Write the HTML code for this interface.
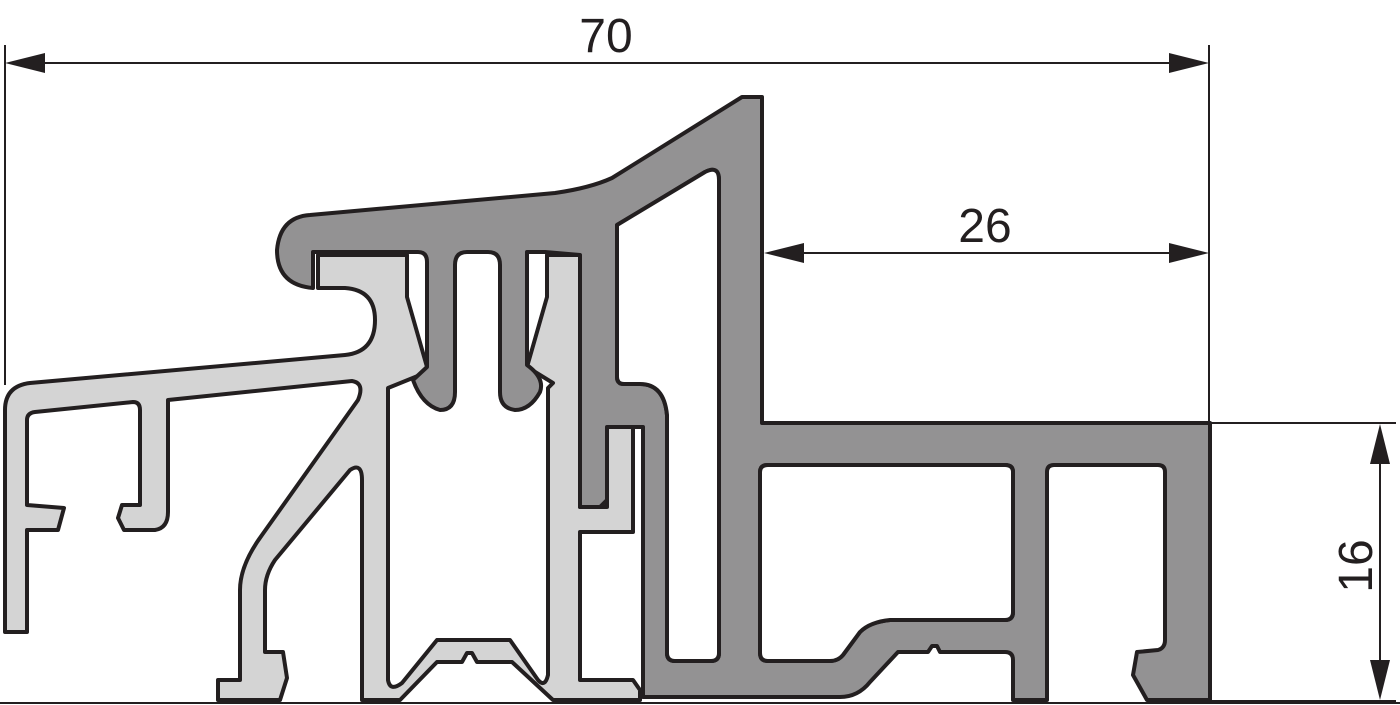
<!DOCTYPE html>
<html><head><meta charset="utf-8"><style>
html,body{margin:0;padding:0;background:#fff;}
svg{display:block;}
</style></head><body>
<svg width="1400" height="705" viewBox="0 0 1400 705" xmlns="http://www.w3.org/2000/svg">
<g stroke="#231f20" stroke-width="2" fill="none">
  <line x1="5" y1="45" x2="5" y2="385"/>
  <line x1="1209" y1="45" x2="1209" y2="423"/>
  <line x1="40" y1="63" x2="1172" y2="63"/>
  <line x1="800" y1="253" x2="1172" y2="253"/>
  <line x1="1210" y1="423" x2="1396" y2="423"/>
  <line x1="1210" y1="701" x2="1396" y2="701"/>
  <line x1="1380" y1="460" x2="1380" y2="664"/>
  <line x1="0" y1="703" x2="1400" y2="703"/>
</g>
<g fill="#231f20">
  <polygon points="5,63 45,53 45,73"/>
  <polygon points="1209,63 1169,53 1169,73"/>
  <polygon points="764,253 804,243 804,263"/>
  <polygon points="1209,253 1169,243 1169,263"/>
  <polygon points="1380,424 1370,464 1390,464"/>
  <polygon points="1380,700 1370,660 1390,660"/>
</g>
<g font-family="'Liberation Sans', sans-serif" font-size="48" fill="#231f20" text-anchor="middle">
  <text x="606" y="52">70</text>
  <text x="985" y="242">26</text>
  <text transform="translate(1372,566) rotate(-90)">16</text>
</g>
<!-- light profile -->
<path fill="#d4d4d4" stroke="#231f20" stroke-width="4" stroke-linejoin="round" d="
M318,255 L318,288 L345,288 Q375,290 375,320 Q375,352 345,355 L30,383 Q5,386 5,410 L5,632 L27,632 L27,530 L58,530 L64,508 L27,505 L27,420 Q27,413 35,412 L133,402 Q140,402 140,410 L140,505 L122,505 L118,518 L124,530 L155,530 Q168,528 168,512 L168,400 L352,381 Q365,383 358,400 L262,535 Q240,565 240,590 L240,680 L218,680 L218,700 L280,700 L287,678 L283,652 L265,652 L265,590 Q265,575 275,560 L350,470 Q362,462 362,480 L362,700 L400,700 L437,662 L462,662 L467,653 L472,653 L477,662 L512,662 L553,700 L640,700 L640,690 L633,680 L580,680 L580,532 L633,532 L633,427 L607,427 L607,507 L580,507 L580,255 L547,255 L547,297 L527,367 L553,383 L548,388 L548,675 Q545,688 538,680 L510,640 L437,640 L402,683 Q390,692 388,680 L388,388 L430,371 L427,367 L407,297 L407,255 Z"/>
<!-- dark profile -->
<path fill="#939293" stroke="#231f20" stroke-width="4" stroke-linejoin="round" fill-rule="evenodd" d="
M313,288 Q277,285 277,250 Q280,217 310,215 L555,193 Q590,188 612,178 L742,97 L762,97 L762,423 L1210,423 L1210,700 L1147,700 L1133,675 L1137,652 L1158,650 Q1165,648 1165,640 L1165,472 Q1165,465 1158,465 L1054,465 Q1047,465 1047,472 L1047,700 L1013,700 L1013,660 Q1013,652 1005,652 L940,652 L937,646 L932,646 L928,652 L898,652 L870,682 Q858,697 840,697 L643,697 L643,427 L607,427 L607,500 L600,507 L580,507 L580,255 L545,252 L527,252 L527,365 Q545,378 540,392 Q530,410 515,410 Q500,408 500,392 L500,265 Q500,252 488,252 L467,252 Q455,252 455,265 L455,392 Q455,410 440,410 Q422,405 413,380 L427,367 L427,262 Q427,252 418,252 L313,252 Z
M760,472 Q760,465 768,465 L1005,465 Q1013,465 1013,472 L1013,612 Q1013,620 1005,620 L890,620 Q870,622 860,632 L843,655 Q838,661 830,661 L768,661 Q760,661 760,653 Z
M617,225 L705,172 Q719,165 719,180 L719,653 Q719,661 711,661 L675,661 Q667,661 667,653 L667,415 Q664,384 640,384 L624,384 Q617,384 617,377 Z"/>
<path fill="#fff" stroke="#231f20" stroke-width="4" stroke-linejoin="round" d="M617,225 L705,172 Q719,165 719,180 L719,653 Q719,661 711,661 L675,661 Q667,661 667,653 L667,415 Q664,384 640,384 L624,384 Q617,384 617,377 Z"/>
<path fill="#fff" stroke="#231f20" stroke-width="4" stroke-linejoin="round" d="M760,472 Q760,465 768,465 L1005,465 Q1013,465 1013,472 L1013,612 Q1013,620 1005,620 L890,620 Q870,622 860,632 L843,655 Q838,661 830,661 L768,661 Q760,661 760,653 Z"/>
</svg>
</body></html>
